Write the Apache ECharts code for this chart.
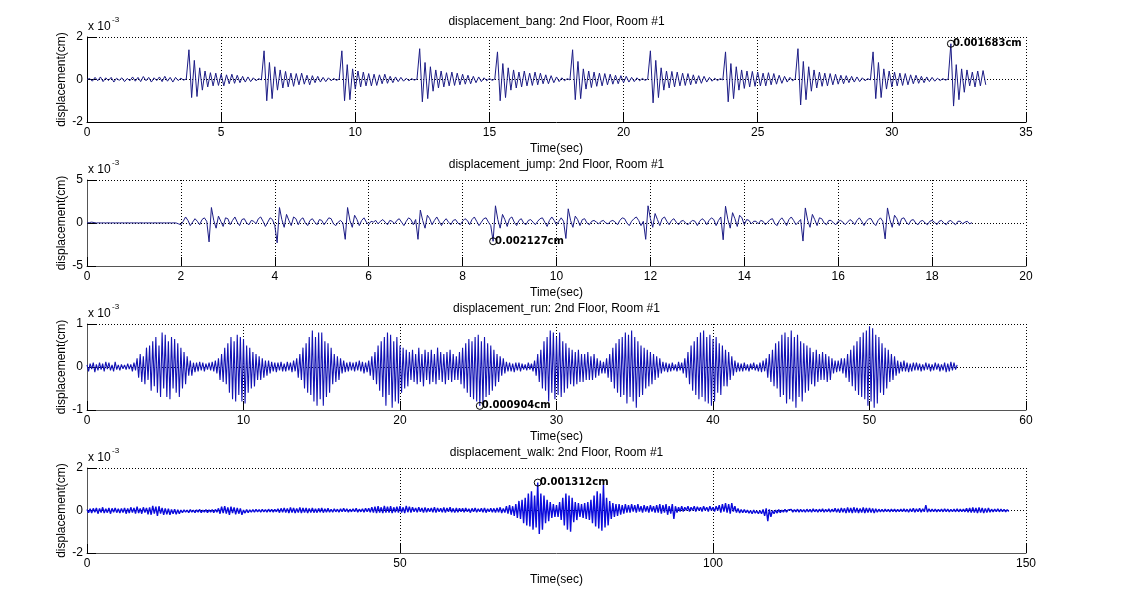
<!DOCTYPE html>
<html><head><meta charset="utf-8">
<script src="https://cdn.jsdelivr.net/npm/echarts@6/dist/echarts.min.js"></script>
<style>html,body{margin:0;padding:0;background:#fff}#c{width:1130px;height:594px}</style>
</head><body><div id="c"></div>
<script>
// ---- data (displacement in units of 1e-3 cm) ----
const titles = ['displacement_bang: 2nd Floor, Room #1','displacement_jump: 2nd Floor, Room #1','displacement_run: 2nd Floor, Room #1','displacement_walk: 2nd Floor, Room #1'];
const xMax = [35, 20, 60, 150];
const xStep = [5, 2, 10, 50];
const yLim = [2, 5, 1, 2];
const sampleStep = [0.1, 0.05, 0.1, 0.25];   // seconds between samples
const tipTimes = [32.2, 8.65, 25.1, 72.0];    // data-cursor samples

const bangValues = [
0,.05,-.08,.1,-.06,.12,-.1,.08,-.05,.1,-.12,.06,-.04,.08,-.1,.05,-.06,.12,-.08,.1,-.1,.14,-.06,.1,-.12,.08,-.05,.12,-.1,.15,-.08,.1,-.12,.1,-.05,.06,-.03,.02,
1.4,-.85,.9,-.8,.55,-.5,.4,-.35,.32,-.3,.3,-.28,.25,-.3,.22,-.2,.25,-.18,.2,-.15,.15,-.12,.12,-.1,.08,-.06,.04,-.02,
1.35,-1.0,.8,-.9,.6,-.5,.45,-.4,.38,-.35,.3,-.32,.28,-.25,.3,-.22,.2,-.25,.18,-.15,.15,-.12,.1,-.1,.08,-.06,.05,-.04,.02,
1.35,-1.0,.7,-.95,.5,-.45,.4,-.35,.35,-.3,.28,-.3,.25,-.28,.22,-.2,.25,-.18,.15,-.15,.12,-.1,.1,-.08,.06,-.06,.04,-.03,.02,
1.45,-1.05,.8,-.9,.6,-.55,.45,-.4,.4,-.35,.32,-.3,.35,-.28,.3,-.25,.25,-.22,.2,-.2,.15,-.15,.12,-.1,.08,-.06,.05,-.04,.02,
1.3,-1.0,.75,-.85,.55,-.5,.45,-.4,.35,-.35,.4,-.3,.3,-.28,.35,-.25,.3,-.2,.22,-.2,.18,-.15,.12,-.1,.08,-.06,.04,-.02,
1.4,-.95,.85,-.9,.5,-.45,.4,-.38,.35,-.32,.3,-.3,.28,-.25,.25,-.22,.2,-.2,.18,-.15,.15,-.12,.1,-.1,.08,-.06,.05,-.04,.02,
1.35,-1.1,.9,-.85,.55,-.5,.4,-.4,.38,-.35,.35,-.3,.3,-.28,.28,-.25,.22,-.2,.18,-.18,.15,-.12,.1,-.08,.06,-.05,.04,-.02,
1.3,-1.05,.75,-.9,.6,-.5,.45,-.42,.4,-.35,.38,-.32,.35,-.3,.3,-.3,.32,-.25,.28,-.22,.2,-.18,.15,-.12,.1,-.06,.03,
1.45,-1.2,.85,-.95,.6,-.55,.45,-.4,.35,-.32,.3,-.3,.28,-.25,.25,-.22,.2,-.2,.18,-.15,.15,-.12,.12,-.1,.08,-.06,.04,-.02,
1.3,-.9,.8,-.85,.5,-.45,.4,-.35,.35,-.3,.3,-.28,.28,-.25,.22,-.2,.2,-.18,.15,-.15,.12,-.1,.1,-.08,.06,-.05,.04,-.03,.02,
1.683,-1.25,.7,-.95,.5,-.6,.45,-.3,.35,-.35,.4,-.3,.42,-.25
];

const jumpValues = [
0,.05,.1,.05,0,.02,0,.02,0,.02,0,.02,0,.02,0,.02,0,.02,0,.02,0,.02,0,.02,0,.02,0,.02,0,.02,0,.02,0,.02,0,.02,0,.02,
0,-.1,-.2,.2,.7,.3,-.3,.1,.5,.2,-.2,.4,.6,.2,
-2.2,1.8,.3,-.6,.8,.2,-.4,.6,.5,-.2,.3,.7,.1,-.3,.4,.5,0,-.2,.3,.2,-.1,.5,.7,.2,-.4,.1,.6,.4,-.3,
-2.3,1.8,.4,-.5,1.0,.3,-.3,.7,.5,-.2,.4,.6,0,-.3,.3,.5,.1,-.2,.4,.3,-.2,.2,.6,.5,-.1,-.3,.1,.3,0,
-1.9,1.8,.3,-.5,.9,.4,-.3,.3,.6,.1,-.2,.2,.1,.3,-.1,.2,.4,.1,-.2,.3,.2,-.1,.3,.5,.1,-.3,.2,.6,.4,-.2,.4,
-1.9,1.5,.3,-.6,.9,.5,-.2,.3,.7,.2,-.3,.2,.5,.1,-.2,.3,.4,0,-.2,.2,.5,.3,-.2,.4,.7,.2,-.3,.1,.5,.6,.1,-.3,
-2.127,2.0,.4,-.6,1.0,.4,-.4,.5,.7,.1,-.3,.3,.5,0,-.2,.3,.4,.1,-.2,.2,.5,.6,.1,-.4,.3,.7,.3,-.2,.2,.6,.2,
-1.8,1.65,.3,-.5,.8,.4,-.3,.4,.5,0,-.2,.2,.3,.1,-.1,.2,.3,0,-.1,.2,.3,.1,-.2,.3,.6,.5,0,-.3,.2,.5,.7,.3,-.3,.2,
-1.9,2.0,.5,-.5,1.1,.4,-.3,.5,.7,.2,-.2,.3,.5,.1,-.2,.2,.3,0,-.2,.1,.3,.2,-.3,.2,.5,.3,-.2,.3,.6,.4,-.3,.3,.7,
-1.95,1.95,.4,-.6,1.2,.5,-.4,.9,.6,-.2,.4,.3,-.1,.2,.2,-.1,.3,.2,-.2,.1,.4,.5,-.1,-.3,.3,.6,.2,-.3,.4,.7,.3,-.2,.1,.4,
-2.1,1.75,.3,-.5,1.0,.4,-.3,.6,.5,0,-.2,.3,.3,0,-.2,.2,.3,.1,-.2,.1,.4,.2,-.2,.3,.6,.2,-.3,.2,.5,.5,0,-.3,.3,.6,.2,
-1.85,1.75,.4,-.5,.9,.5,-.3,.5,.6,.1,-.2,.3,.4,0,-.2,.2,.3,0,-.2,.2,.3,.1,-.2,.2,.3,0,-.2,.2,.3,0,-.2,.2,.2,-.1,.1,.2,-.1,.05
];

const runValues = [
.05,-.1,.08,-.05,.1,-.12,.06,-.08,.1,-.06,
.08,-.1,.12,-.05,.1,-.08,.05,-.1,.12,-.06,
.05,-.08,.06,-.04,.05,-.06,.08,-.05,.06,-.1,
.1,-.08,.2,-.25,.3,-.35,.25,-.4,.45,-.3,
.5,-.55,.6,-.45,.7,-.6,.5,-.7,.8,-.5,
.75,-.7,.6,-.75,.7,-.5,.65,-.6,.55,-.7,
.45,-.5,.35,-.4,.25,-.2,.15,-.2,.1,-.12,
.1,-.1,.12,-.08,.1,-.1,.08,-.06,.1,-.08,
.12,-.1,.15,-.15,.2,-.3,.3,-.35,.45,-.4,
.55,-.6,.7,-.75,.6,-.8,.75,-.65,.7,-.8,
.65,-.85,.5,-.6,.45,-.5,.35,-.45,.3,-.3,
.25,-.3,.2,-.25,.15,-.2,.15,-.15,.12,-.1,
.1,-.12,.1,-.08,.12,-.1,.08,-.1,.12,-.08,
.1,-.12,.15,-.1,.2,-.25,.3,-.3,.45,-.5,
.55,-.6,.7,-.65,.85,-.8,.7,-.9,.8,-.75,
.8,-.9,.6,-.7,.55,-.6,.45,-.4,.3,-.35,
.25,-.3,.2,-.15,.15,-.12,.1,-.1,.12,-.08,
.1,-.1,.12,-.08,.15,-.1,.12,-.15,.1,-.12,
.15,-.2,.25,-.3,.35,-.4,.5,-.55,.6,-.7,
.7,-.9,.8,-.65,.75,-.95,.6,-.8,.7,-.85,
.5,-.6,.45,-.5,.4,-.45,.35,-.3,.4,-.35,
.3,-.4,.45,-.35,.3,-.45,.4,-.3,.35,-.4,
.4,-.35,.3,-.4,.45,-.3,.35,-.35,.3,-.4,
.35,-.3,.4,-.35,.3,-.3,.25,-.3,.35,-.4,
.45,-.5,.55,-.6,.65,-.7,.6,-.75,.7,-.8,
.75,-.904,.6,-.85,.7,-.7,.55,-.65,.5,-.55,
.4,-.45,.3,-.35,.25,-.2,.2,-.15,.12,-.1,
.1,-.1,.08,-.12,.1,-.08,.1,-.1,.08,-.06,
.06,-.08,.1,-.06,.08,-.1,.15,-.2,.3,-.35,
.4,-.5,.6,-.55,.7,-.8,.85,-.6,.8,-.75,
.7,-.65,.8,-.7,.6,-.6,.55,-.5,.45,-.4,
.4,-.45,.35,-.4,.4,-.35,.3,-.35,.3,-.3,
.35,-.3,.25,-.3,.3,-.25,.2,-.2,.15,-.15,
.12,-.15,.2,-.25,.3,-.35,.45,-.5,.55,-.6,
.65,-.7,.7,-.65,.8,-.85,.75,-.7,.85,-.8,
.7,-.95,.6,-.7,.5,-.65,.45,-.5,.4,-.45,
.35,-.4,.3,-.3,.25,-.25,.2,-.15,.12,-.1,
.1,-.12,.08,-.1,.1,-.08,.06,-.1,.12,-.08,
.1,-.15,.2,-.25,.35,-.4,.5,-.55,.6,-.65,
.7,-.75,.8,-.7,.85,-.8,.7,-.85,.75,-.9,
.65,-.8,.7,-.6,.55,-.65,.5,-.45,.4,-.45,
.35,-.3,.25,-.2,.15,-.12,.1,-.1,.08,-.1,
.1,-.08,.06,-.1,.08,-.06,.1,-.08,.06,-.1,
.1,-.12,.15,-.1,.2,-.25,.3,-.35,.4,-.45,
.55,-.5,.6,-.7,.75,-.65,.8,-.85,.7,-.75,
.85,-.8,.7,-.95,.75,-.7,.6,-.8,.55,-.6,
.5,-.55,.45,-.4,.35,-.45,.4,-.35,.3,-.3,
.35,-.3,.3,-.35,.25,-.3,.2,-.15,.15,-.12,
.15,-.1,.2,-.15,.2,-.25,.3,-.35,.4,-.45,
.5,-.55,.6,-.65,.7,-.7,.8,-.75,.85,-.9,
.95,-.8,.9,-.95,.75,-.85,.7,-.6,.55,-.65,
.45,-.5,.4,-.35,.3,-.3,.25,-.2,.15,-.15,
.12,-.1,.15,-.1,.1,-.12,.08,-.1,.1,-.08,
.1,-.08,.08,-.1,.06,-.08,.1,-.06,.08,-.1,
.06,-.08,.1,-.06,.08,-.1,.06,-.08,.1,-.12,
.08,-.1,.12,-.08,.1,-.06,.05
];

const walkValues = [
.05,-.1,.08,-.12,.1,-.08,.12,-.15,.1,-.1,.15,-.12,.08,-.1,.12,-.15,.1,-.08,.12,-.1,
.08,-.12,.1,-.1,.12,-.15,.1,-.12,.15,-.1,.12,-.15,.18,-.12,.1,-.15,.15,-.1,.12,-.18,
.15,-.2,.22,-.15,.18,-.25,.2,-.15,.12,-.2,.1,-.18,.08,-.2,.05,-.15,.06,-.18,.04,-.15,
.02,-.1,.03,-.08,.02,-.1,.04,-.08,.02,-.1,.03,-.08,.05,-.1,.02,-.08,.04,-.1,.03,-.08,
.04,-.1,.05,-.08,.1,-.15,.18,-.12,.2,-.15,.15,-.2,.18,-.12,.15,-.18,.12,-.15,.1,-.2,
.02,-.12,.04,-.1,.03,-.08,.04,-.08,.05,-.06,.04,-.08,.05,-.06,.04,-.08,.06,-.06,.05,-.08,
.05,-.06,.08,-.1,.1,-.08,.12,-.1,.1,-.12,.14,-.1,.12,-.12,.1,-.1,.14,-.12,.12,-.1,
.12,-.12,.1,-.1,.12,-.1,.08,-.1,.1,-.08,.12,-.1,.08,-.08,.1,-.08,.06,-.08,.08,-.06,
.06,-.08,.08,-.06,.1,-.06,.08,-.08,.06,-.06,.08,-.06,.1,-.08,.06,-.06,.08,-.08,.1,-.06,
.1,-.08,.15,-.1,.18,-.12,.2,-.1,.15,-.12,.22,-.1,.18,-.1,.2,-.12,.15,-.08,.18,-.1,
.2,-.1,.15,-.12,.22,-.08,.18,-.1,.15,-.06,.12,-.08,.15,-.06,.12,-.1,.14,-.08,.1,-.06,
.12,-.08,.15,-.1,.12,-.06,.1,-.08,.14,-.1,.12,-.06,.15,-.08,.1,-.1,.12,-.08,.1,-.06,
.1,-.08,.12,-.06,.08,-.1,.1,-.06,.12,-.08,.08,-.06,.1,-.08,.12,-.1,.08,-.06,.1,-.08,
.1,-.1,.12,-.08,.15,-.12,.1,-.1,.2,-.15,.25,-.2,.2,-.25,.3,-.35,.45,-.4,.5,-.6,
.6,-.7,.8,-.75,.9,-.9,.7,-.8,1.312,-1.1,.8,-.9,.7,-.6,.5,-.5,.4,-.35,.3,-.3,
.25,-.3,.4,-.45,.6,-.7,.8,-.9,.7,-1.0,.6,-.55,.4,-.45,.35,-.3,.3,-.35,.35,-.4,
.4,-.45,.5,-.6,.7,-.75,.9,-.85,.8,-.95,1.2,-.8,.6,-.7,.45,-.4,.35,-.3,.3,-.25,
.3,-.2,.25,-.15,.3,-.1,.25,-.1,.3,-.05,.25,-.1,.3,-.05,.2,-.1,.25,-.05,.2,-.1,
.25,-.05,.2,-.1,.25,-.1,.3,-.15,.25,-.1,.3,-.2,.2,-.15,.3,-.4,.2,-.1,.15,-.05,
.2,-.05,.15,0,.2,-.05,.15,0,.2,-.05,.18,0,.15,-.05,.2,0,.15,-.05,.2,0,
.15,-.05,.2,0,.25,-.1,.3,-.05,.35,-.1,.3,-.15,.35,-.05,.2,-.1,.1,-.12,.05,-.1,
.05,-.1,.02,-.12,0,-.15,.02,-.12,-.02,-.15,0,-.15,.05,-.25,.1,-.5,.05,-.3,0,-.15,
.02,-.12,.04,-.1,.02,-.08,.05,-.08,.03,-.06,.05,-.08,.04,-.06,.06,-.08,.05,-.06,.04,-.08,
.06,-.06,.05,-.08,.08,-.06,.05,-.08,.06,-.06,.08,-.08,.05,-.06,.08,-.08,.06,-.06,.1,-.08,
.08,-.1,.12,-.08,.1,-.12,.14,-.1,.12,-.12,.15,-.1,.12,-.12,.1,-.1,.14,-.12,.12,-.1,
.12,-.1,.1,-.12,.08,-.08,.06,-.06,.05,-.06,.06,-.05,.05,-.06,.06,-.05,.06,-.06,.05,-.05,
.06,-.05,.08,-.06,.06,-.08,.08,-.06,.1,-.08,.08,-.06,.1,-.08,.08,-.06,.25,-.08,.08,-.06,
.06,-.05,.06,-.06,.05,-.05,.06,-.06,.08,-.05,.06,-.06,.05,-.05,.06,-.06,.08,-.06,.06,-.05,
.06,-.06,.1,-.08,.12,-.1,.14,-.1,.12,-.12,.14,-.1,.12,-.12,.1,-.1,.12,-.08,.06,-.06,
.06,-.05,.08,-.06,.06,-.05,.05,-.06,.04,-.05
];

const signals = [bangValues, jumpValues, runValues, walkValues];

// ---- layout / style ----
const FONT = '"Liberation Sans", Arial, Helvetica, sans-serif';
const gridTops = [37, 180, 324, 468];
const gridHeights = [85, 86, 86, 85];
const gridLeft = 87, gridWidth = 939;
const lineColors = ['#1c1c86', '#1c1c86', '#1212b4', '#0b0bdc'];
const lineWidths = [1, 1, 1.1, 1.4];
const axisColors = ['#000', '#555', '#555', '#555'];
const gridLine = {show: true, lineStyle: {color: '#000', width: 1, type: [1, 2]}};

const grids = [], xAxes = [], yAxes = [], series = [], graphics = [];
signals.forEach((vals, i) => {
  const dt = sampleStep[i];
  const data = vals.map((v, k) => [Math.round(k * dt * 1000) / 1000, v]);
  const tipIdx = Math.round(tipTimes[i] / dt);
  const tip = data[tipIdx];
  grids.push({left: gridLeft, top: gridTops[i], width: gridWidth, height: gridHeights[i]});
  xAxes.push({
    type: 'value', gridIndex: i, min: 0, max: xMax[i], interval: xStep[i],
    name: 'Time(sec)', nameLocation: 'middle', nameGap: 21, nameMoveOverlap: false,
    nameTextStyle: {color: '#000', fontSize: 12, fontFamily: FONT},
    axisLine: {show: true, onZero: false, lineStyle: {color: axisColors[i], width: 1}},
    axisTick: {show: true, inside: true, length: 9, lineStyle: {color: '#000', width: 1}},
    axisLabel: {show: true, color: '#000', fontSize: 12, fontFamily: FONT, margin: 5, showMinLabel: true, showMaxLabel: true},
    splitLine: gridLine
  });
  yAxes.push({
    type: 'value', gridIndex: i, min: -yLim[i], max: yLim[i], interval: yLim[i],
    name: 'displacement(cm)', nameLocation: 'middle', nameGap: 19, nameRotate: 90, nameMoveOverlap: false,
    nameTextStyle: {color: '#000', fontSize: 12, fontFamily: FONT},
    axisLine: {show: true, onZero: false, lineStyle: {color: axisColors[i], width: 1}},
    axisTick: {show: true, inside: true, length: 9, lineStyle: {color: '#000', width: 1}},
    axisLabel: {show: true, color: '#000', fontSize: 12, fontFamily: FONT, margin: 4},
    splitLine: gridLine
  });
  series.push({
    type: 'line', xAxisIndex: i, yAxisIndex: i, data: data,
    showSymbol: false, symbol: 'none', silent: true,
    lineStyle: {color: lineColors[i], width: lineWidths[i]}, itemStyle: {color: lineColors[i]},
    markPoint: {
      symbol: 'circle', symbolSize: 7, silent: true,
      itemStyle: {color: 'rgba(255,255,255,0)', borderColor: '#000', borderWidth: 1},
      label: {show: true, position: 'right', distance: -2, color: '#000', fontSize: 10, fontWeight: 'bold',
        fontFamily: '"DejaVu Sans", sans-serif',
        formatter: p => (Math.abs(p.value) / 1000).toFixed(6) + 'cm'},
      data: [{coord: tip, value: tip[1]}]
    }
  });
  graphics.push({type: 'text', x: gridLeft + gridWidth / 2, y: gridTops[i] - 15, silent: true,
    style: {text: titles[i], font: '12px ' + FONT, fill: '#000', textAlign: 'center', textVerticalAlign: 'middle', align: 'center', verticalAlign: 'middle'}});
  graphics.push({type: 'text', x: gridLeft + 1, y: gridTops[i] - 10, silent: true,
    style: {text: 'x 10', font: '12px ' + FONT, fill: '#000', textAlign: 'left', textVerticalAlign: 'middle', align: 'left', verticalAlign: 'middle'}});
  graphics.push({type: 'text', x: gridLeft + 25, y: gridTops[i] - 17, silent: true,
    style: {text: '-3', font: '8px ' + FONT, fill: '#000', textAlign: 'left', textVerticalAlign: 'middle', align: 'left', verticalAlign: 'middle'}});
});

const chart = echarts.init(document.getElementById('c'), null, {renderer: 'canvas'});
chart.setOption({
  animation: false,
  backgroundColor: '#fff',
  grid: grids, xAxis: xAxes, yAxis: yAxes, series: series,
  graphic: graphics
});
</script></body></html>
